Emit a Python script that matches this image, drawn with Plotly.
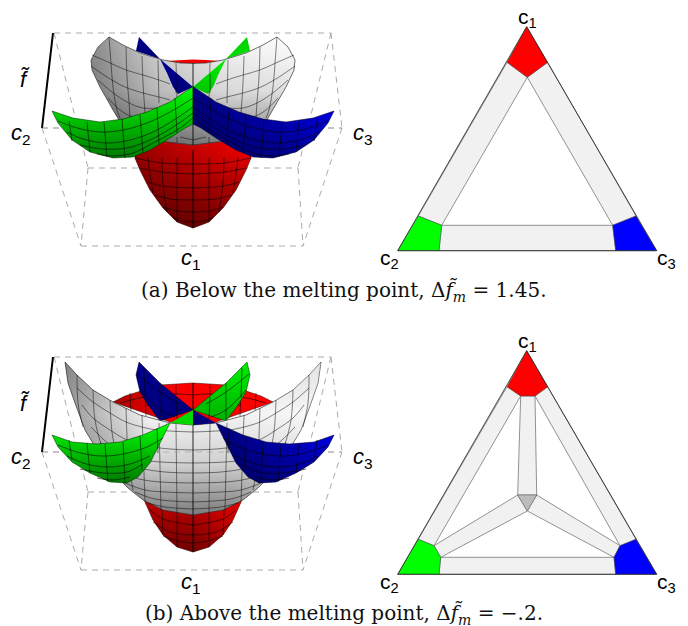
import plotly.graph_objects as go

CX = 193      # mirror line of the surface plots
DY = 324      # second row offset for the box and labels

box_top = [(54, 33), (331, 33)]
box_mid = [(42, 128), (342, 128)]
box_back = [(88, 168), (298, 168)]
box_bottom = [(81, 246), (303, 246)]
box_edges = [[(54, 33), (88, 168)], [(88, 168), (81, 246)], [(42, 128), (81, 246)],
             [(331, 33), (298, 168)], [(298, 168), (303, 246)], [(342, 128), (303, 246)],
             [(331, 33), (342, 128)]]
f_axis = [(53, 33), (42, 128)]

# panel a surfaces, left halves
a_lens = [(165, 61), (180, 60), (193, 59.5), (206, 60), (221, 61), (206, 63), (193, 63.5), (180, 63)]
a_red = [(193, 135), (135, 135), (135, 158), (140, 170), (150, 190), (163, 208), (177, 222), (193, 228)]
a_red_v = [[(148, 157), (149, 167), (153, 193)], [(162, 158), (163, 183), (167, 212)],
           [(177, 158), (177, 222)], [(193, 150), (193, 228)]]
a_red_h = [[(135, 158), (162, 163), (193, 164)], [(140, 168), (162, 172), (193, 174)],
           [(147, 182), (162, 186), (193, 188)], [(155, 195), (170, 199), (193, 200)],
           [(163, 207), (177, 211), (193, 212)], [(173, 218), (183, 221), (193, 222)]]
a_gray = [(193, 63.5), (180, 63), (163, 60), (140, 53), (123, 45), (109, 37), (98, 47), (91, 60),
          (92, 70), (100, 87), (113, 110), (125, 130), (150, 140), (177, 143), (193, 145)]
a_gray_lines = [[(92, 55), (108, 62), (126, 70), (143, 75), (159, 80), (170, 84)],
                [(91, 66), (107, 77), (125, 87), (143, 93), (159, 97), (170, 100)],
                [(98, 80), (112, 92), (127, 102), (143, 108), (159, 108)],
                [(108, 98), (120, 110), (133, 117), (150, 118)],
                [(109, 37), (111, 63), (113, 87), (117, 110), (120, 118)],
                [(126, 47), (127, 77), (129, 102), (130, 118)],
                [(142, 56), (143, 83), (145, 113)], [(158, 60), (159, 103)],
                [(176, 63), (177, 100)], [(193, 63), (193, 90)],
                [(193, 124), (193, 145)], [(177, 137), (177, 143)],
                [(180, 137), (193, 140)]]
a_blue_tip = [(139, 37), (160, 59), (136, 51)]
a_blue_mid = [(160, 59), (193, 87), (178, 94), (173, 87), (167, 73)]
a_mid_lines = [[(176, 74), (176, 93)]]
green_top = [(52, 111), (73, 118), (100, 122), (123, 119), (147, 112), (170, 102), (193, 86.5)]
a_green_low = [(193, 124), (185, 128), (170, 138), (150, 150), (133, 157), (113, 158), (90, 152),
               (72, 140), (58, 123)]
a_green_lines = [[(69, 121), (72, 141)], [(87, 122), (90, 152)], [(104, 122), (107, 157)],
                 [(122, 119), (125, 158)], [(140, 115), (143, 153)], [(157, 108), (159, 144)],
                 [(175, 98), (177, 133)],
                 [(58, 121), (77, 128), (100, 132), (123, 130), (147, 123), (170, 112), (193, 98)],
                 [(67, 132), (83, 139), (107, 143), (130, 140), (153, 132), (177, 118), (193, 107)],
                 [(80, 145), (103, 149), (127, 148), (150, 140), (173, 127), (193, 113)],
                 [(97, 154), (113, 156), (133, 153), (153, 143), (177, 130), (193, 118)]]

# panel b surfaces, left halves
b_red_top = [(193, 430), (113, 402), (125, 396), (140, 391), (160, 385), (193, 383)]
b_red_top_lines = [[(130, 393), (131, 410)], [(145, 388), (146, 416)], [(176, 385), (176, 395)],
                   [(193, 383), (193, 410)], [(120, 403), (140, 398), (176, 394), (193, 395)],
                   [(145, 405), (193, 410)]]
b_red = [(193, 490), (145, 490), (145, 502), (153, 520), (163, 535), (177, 547), (193, 552)]
b_red_lines = [[(162, 510), (163, 535)], [(177, 513), (177, 547)], [(193, 515), (193, 552)],
               [(150, 510), (163, 519), (193, 525)], [(153, 522), (170, 532), (193, 535)],
               [(163, 536), (178, 541), (193, 543)]]
b_gray = [(193, 425), (170, 423), (140, 415), (113, 402), (93, 390), (77, 375), (65, 362),
          (68, 383), (75, 403), (85, 430), (97, 450), (113, 473), (128, 488), (143, 500),
          (163, 510), (193, 515)]
b_gray_lines = [[(77, 375), (78, 403), (83, 427)], [(93, 390), (95, 420), (102, 447), (113, 472)],
                [(110, 400), (112, 432), (117, 457), (125, 483)],
                [(126, 408), (127, 437), (128, 460), (133, 490)],
                [(142, 415), (143, 443), (145, 502)], [(159, 423), (161, 510)],
                [(176, 424), (177, 513)], [(193, 425), (193, 515)],
                [(77, 388), (93, 402), (110, 413), (126, 422), (142, 427), (157, 430), (193, 432)],
                [(82, 405), (93, 418), (110, 430), (127, 440), (147, 446), (170, 449), (193, 450)],
                [(91, 427), (110, 445), (130, 456), (150, 461), (193, 463)],
                [(100, 442), (120, 459), (140, 468), (165, 472), (193, 473)],
                [(113, 465), (130, 476), (150, 481), (193, 483)],
                [(125, 483), (145, 490), (165, 492), (193, 493)],
                [(135, 492), (155, 499), (193, 502)], [(148, 503), (165, 507), (193, 509)]]
b_blue_back = [(139, 362), (160, 383), (193, 410), (160, 421), (148, 405), (140, 392), (136, 375)]
b_back_lines = [[(144, 368), (145, 398)], [(160, 383), (160, 420)], [(176, 397), (177, 419)],
                [(137, 374), (160, 392), (180, 404)], [(140, 390), (160, 410), (175, 417)]]
b_wedge = [(170, 423), (193, 410), (193, 425)]
b_green_top = [(52, 435), (72, 442), (97, 444), (120, 442), (143, 435), (170, 423)]
b_green_low = [(160, 443), (150, 463), (138, 477), (127, 483), (110, 482), (90, 473), (72, 462), (58, 447)]
b_green_lines = [[(69, 440), (72, 460)], [(87, 443), (90, 473)], [(105, 444), (108, 482)],
                 [(123, 442), (125, 483)], [(140, 436), (142, 470)], [(157, 428), (158, 453)],
                 [(58, 445), (77, 452), (100, 456), (123, 454), (147, 447), (163, 438)],
                 [(67, 456), (83, 463), (107, 467), (130, 464), (150, 456)],
                 [(80, 469), (103, 473), (127, 472), (143, 464)],
                 [(97, 478), (113, 480), (130, 477)]]

# triangles
tri_a = [(526.7, 26.7), (397.7, 250.7), (656.7, 250.7)]
tri_a_red = [(526.7, 26.7), (547.7, 62.3), (527.3, 77.3), (507, 62.3)]
tri_a_green = [(397.7, 250.7), (418.3, 216), (441.7, 225.3), (439, 250.7)]
tri_a_blue = [(656.7, 250.7), (636, 216), (612.7, 225.3), (615.7, 250.7)]
tri_a_bands = [[(507, 62.3), (527.3, 77.3), (441.7, 225.3), (418.3, 216)],
               [(547.7, 62.3), (527.3, 77.3), (612.7, 225.3), (636, 216)],
               [(441.7, 225.3), (612.7, 225.3), (615.7, 250.7), (439, 250.7)]]
tri_b = [(526.7, 350.7), (397.7, 574.3), (656.7, 574.3)]
tri_b_red = [(526.7, 350.7), (547.7, 386.7), (535, 396), (520.7, 396), (507, 386.7)]
tri_b_green = [(397.7, 574.3), (418.3, 539.3), (434, 545.7), (440.7, 557.3), (439, 574.3)]
tri_b_blue = [(656.7, 574.3), (636, 539.3), (620, 545.7), (614, 557.3), (615.7, 574.3)]
tri_b_bands = [[(507, 386.7), (520.7, 396), (434, 545.7), (418.3, 539.3)],
               [(547.7, 386.7), (535, 396), (620, 545.7), (636, 539.3)],
               [(440.7, 557.3), (614, 557.3), (615.7, 574.3), (439, 574.3)],
               [(520.7, 396), (535, 396), (536.7, 495), (517.7, 495)],
               [(517.7, 495), (527.3, 511), (440.7, 557.3), (434, 545.7)],
               [(536.7, 495), (527.3, 511), (614, 557.3), (620, 545.7)]]
tri_b_core = [(517.7, 495), (536.7, 495), (527.3, 511)]

caption_a = "(a) Below the melting point, Δ<i>f̃<sub>m</sub></i> = 1.45."
caption_b = "(b) Above the melting point, Δ<i>f̃<sub>m</sub></i> = −.2."

fig = go.Figure()


def mir(pts):
    return [(2 * CX - x, y) for x, y in pts]


def both(pts):
    return pts + mir(pts)[::-1]


def grad(kind, start, stop, *colors):
    n = len(colors) - 1
    return dict(type=kind, start=start, stop=stop,
                colorscale=[[i / n, c] for i, c in enumerate(colors)])


def patch(pts, fill=None, gradient=None, edge=None, width=0.7):
    pts = list(pts) + [pts[0]]
    kw = dict(fillgradient=gradient) if gradient else dict(fillcolor=fill)
    fig.add_trace(go.Scatter(x=[p[0] for p in pts], y=[p[1] for p in pts], mode="lines", fill="toself",
                             line=dict(color=edge or "rgba(0,0,0,0)", width=width if edge else 0),
                             hoverinfo="skip", showlegend=False, **kw))


def lines(groups, color="rgba(0,0,0,0.7)", width=0.8, dash=None, shape="spline"):
    xs, ys = [], []
    for g in groups:
        xs += [p[0] for p in g] + [None]
        ys += [p[1] for p in g] + [None]
    fig.add_trace(go.Scatter(x=xs, y=ys, mode="lines", hoverinfo="skip", showlegend=False,
                             line=dict(color=color, width=width, dash=dash, shape=shape)))


def mesh(groups, **kw):
    lines(groups + [mir(g) for g in groups], **kw)


def draw_box(dy):
    groups = [box_top, box_mid, box_back, box_bottom] + box_edges
    lines([[(x, y + dy) for x, y in g] for g in groups], color="#ababab", width=1, dash="6px,5px", shape="linear")
    lines([[(x, y + dy) for x, y in f_axis]], color="black", width=2, shape="linear")


def labels(dy):
    for txt, x, y in [("<i>f̃</i>", 25, 79), ("<i>c</i><sub>2</sub>", 21, 134),
                      ("<i>c</i><sub>3</sub>", 363, 134), ("<i>c</i><sub>1</sub>", 191, 259)]:
        fig.add_annotation(x=x, y=y + dy, text=txt, showarrow=False,
                           font=dict(family="Liberation Sans", size=22, color="black"))
    for txt, x, y in [("c<sub>1</sub>", 527, 18), ("c<sub>2</sub>", 389, 259), ("c<sub>3</sub>", 666, 259)]:
        fig.add_annotation(x=x, y=y + dy, text=txt, showarrow=False,
                           font=dict(family="Liberation Sans", size=21, color="black"))


# ---- panel a, surfaces
draw_box(0)
patch(a_lens, fill="#f00000")
patch(a_blue_tip, gradient=grad("vertical", 37, 60, "#000090", "#000070"))
patch(mir(a_blue_tip), gradient=grad("vertical", 37, 60, "#00d000", "#00e000"))
patch(both(a_red), gradient=grad("vertical", 145, 228, "#f40000", "#7a0000"))
patch(both(a_red), gradient=grad("horizontal", 135, 250, "rgba(0,0,0,0.35)", "rgba(0,0,0,0)"), edge="#300000", width=0.6)
mesh(a_red_v + a_red_h)
patch(both(a_gray), gradient=grad("horizontal", 91, 294, "#8c8c8c", "#d4d4d4", "#f6f6f6", "#ffffff"), edge="#333333", width=0.7)
patch(both(a_gray), gradient=grad("vertical", 37, 145, "rgba(0,0,0,0)", "rgba(0,0,0,0.12)", "rgba(0,0,0,0.5)"))
mesh(a_gray_lines, color="rgba(0,0,0,0.6)")
lines([[(42, 128), (342, 128)]], color="rgba(150,150,150,0.5)", width=1, dash="6px,5px", shape="linear")
patch(a_blue_mid, gradient=grad("vertical", 59, 94, "#000096", "#000078"))
patch(mir(a_blue_mid), gradient=grad("vertical", 59, 94, "#00ee00", "#00c400"))
mesh(a_mid_lines)
patch(green_top + a_green_low, gradient=grad("vertical", 86, 158, "#00ff00", "#007a00"), edge="#002000", width=0.5)
patch(mir(green_top + a_green_low), gradient=grad("horizontal", 193, 334, "#00007a", "#0000e8"), edge="#000020", width=0.5)
patch(mir(green_top + a_green_low), gradient=grad("vertical", 105, 158, "rgba(0,0,0,0)", "rgba(0,0,0,0.3)"))
mesh(a_green_lines)

# ---- panel b, surfaces
draw_box(DY)
patch(both(b_red_top), gradient=grad("horizontal", 113, 273, "#a80000", "#f80000", "#ff0000", "#ff0000"), edge="#300000", width=0.5)
mesh(b_red_top_lines)
patch(b_blue_back, gradient=grad("vertical", 362, 421, "#000090", "#00007a"), edge="#000020", width=0.5)
patch(mir(b_blue_back), gradient=grad("vertical", 362, 421, "#00f000", "#00b000"), edge="#002000", width=0.5)
mesh(b_back_lines)
patch(both(b_red), gradient=grad("vertical", 500, 552, "#c40000", "#6e0000"), edge="#300000", width=0.6)
patch(both(b_red), gradient=grad("horizontal", 193, 241, "rgba(255,0,0,0)", "rgba(255,0,0,0.5)"))
mesh(b_red_lines)
patch(both(b_gray), gradient=grad("vertical", 362, 515, "#d4d4d4", "#f4f4f4", "#d0d0d0", "#7c7c7c"), edge="#333333", width=0.7)
patch(both(b_gray), gradient=grad("horizontal", 65, 321, "rgba(0,0,0,0.38)", "rgba(0,0,0,0)", "rgba(255,255,255,0)", "rgba(255,255,255,0.35)"))
mesh(b_gray_lines, color="rgba(0,0,0,0.6)")
lines([[(42, 452), (342, 452)]], color="rgba(150,150,150,0.5)", width=1, dash="6px,5px", shape="linear")
patch(b_wedge, fill="#00d800")
patch(mir(b_wedge), fill="#00007e")
b_front = b_green_top + b_green_low
patch(b_front, gradient=grad("vertical", 423, 483, "#00ff00", "#007a00"), edge="#002000", width=0.5)
patch(mir(b_front), gradient=grad("horizontal", 216, 334, "#00007a", "#0000e8"), edge="#000020", width=0.5)
patch(mir(b_front), gradient=grad("vertical", 430, 483, "rgba(0,0,0,0)", "rgba(0,0,0,0.3)"))
mesh(b_green_lines)

# ---- triangles
for bands, red, green, blue, tri in [(tri_a_bands, tri_a_red, tri_a_green, tri_a_blue, tri_a),
                                     (tri_b_bands, tri_b_red, tri_b_green, tri_b_blue, tri_b)]:
    for b in bands:
        patch(b, fill="#f1f1f1", edge="#666666", width=0.7)
    patch(red, fill="#ff0000", edge="#444444", width=0.5)
    patch(green, fill="#00ff00", edge="#444444", width=0.5)
    patch(blue, fill="#0000ff", edge="#444444", width=0.5)
patch(tri_b_core, fill="#bcbcbc", edge="#666666", width=0.6)
lines([tri_a + tri_a[:1], tri_b + tri_b[:1]], color="#222222", width=0.8, shape="linear")

labels(0)
labels(DY)
for txt, y in [(caption_a, 291), (caption_b, 614)]:
    fig.add_annotation(x=344, y=y, text=txt, showarrow=False,
                       font=dict(family="DejaVu Serif", size=20, color="#111111"))

fig.update_xaxes(visible=False, range=[0, 688], fixedrange=True)
fig.update_yaxes(visible=False, range=[626, 0], fixedrange=True)
fig.update_layout(width=688, height=626, margin=dict(l=0, r=0, t=0, b=0), plot_bgcolor="white",
                  paper_bgcolor="white", showlegend=False)
fig.write_html("out.html", config=dict(displayModeBar=False),
               post_script="document.body.style.margin='0';document.body.style.overflow='hidden';")
